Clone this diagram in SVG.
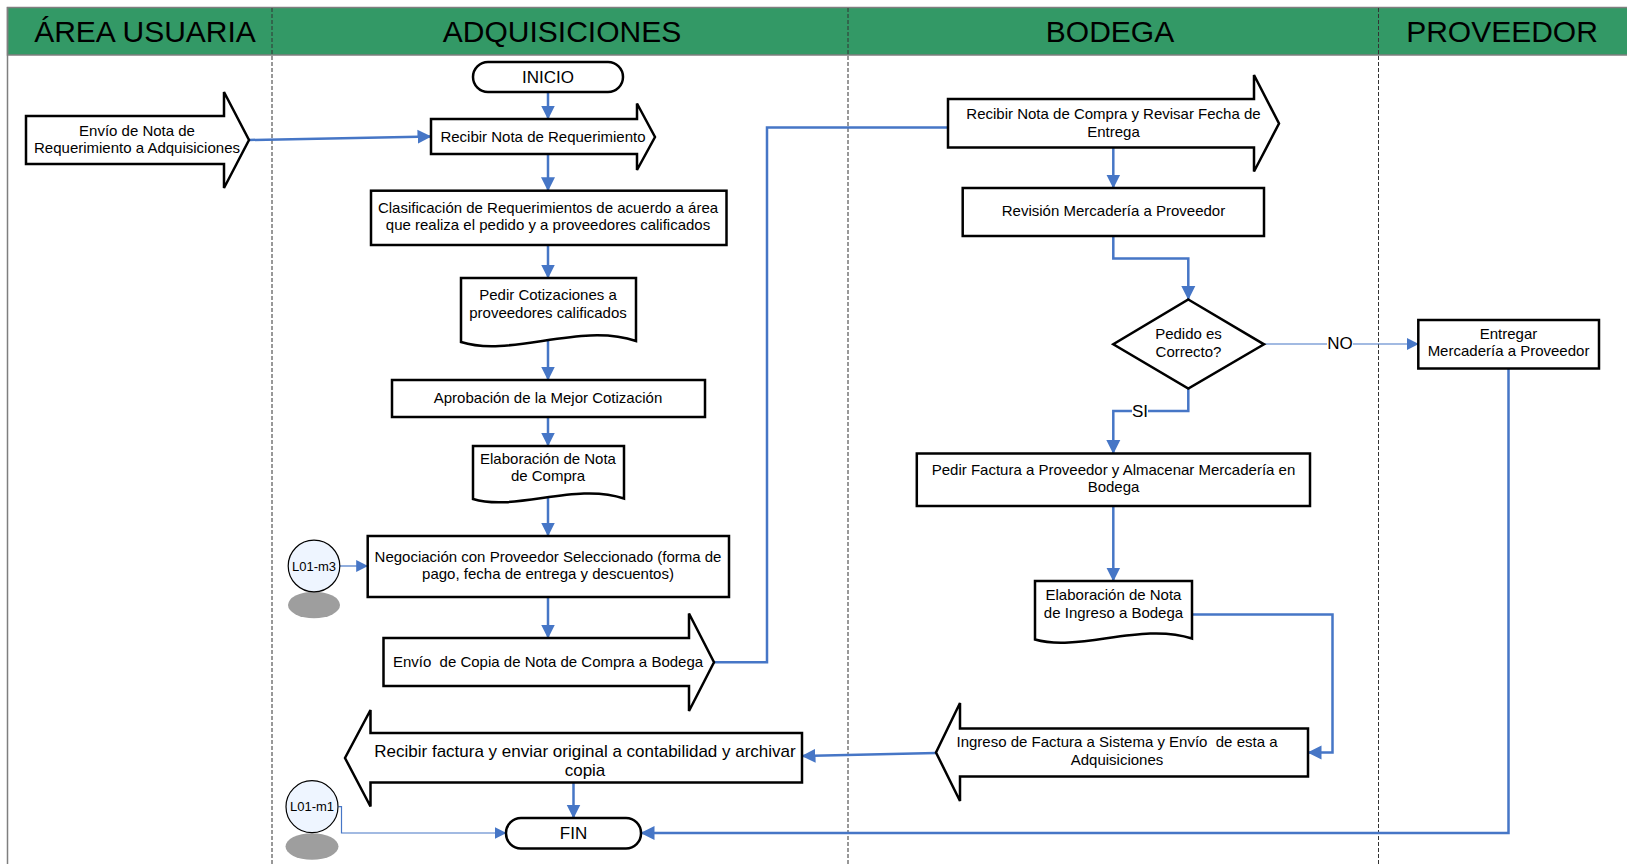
<svg xmlns="http://www.w3.org/2000/svg" width="1627" height="864" viewBox="0 0 1627 864">
  <style>
    text { font-family: "Liberation Sans", Arial, sans-serif; fill: #000; text-anchor: middle; white-space: pre; }
    .lane-title { font-size: 30px; }
    .t { font-size: 15px; }
    .tl { font-size: 17px; }
    .ts { font-size: 13px; }
    .shape { fill: #fff; stroke: #000; stroke-width: 2.5; stroke-linejoin: miter; }
    .ref { fill: #eef5ff; stroke: #000; stroke-width: 1.2; }
    .ref-shadow { fill: #9e9e9e; }
    .lane { stroke: #333; stroke-width: 1; stroke-dasharray: 4 2; fill: none; }
    .conn { fill: none; stroke: #4676c6; stroke-width: 2.5; }
    .conn-thin { fill: none; stroke: #4676c6; stroke-width: 1.2; }
  </style>
  <defs>
    <marker id="arrow" markerUnits="userSpaceOnUse" viewBox="0 0 14 14" markerWidth="14" markerHeight="15" refX="13.5" refY="7" orient="auto">
      <path d="M0,0 L14,7 L0,14 Z" fill="#4676c6"/>
    </marker>
    <marker id="arrow-s" markerUnits="userSpaceOnUse" viewBox="0 0 12 12" markerWidth="12" markerHeight="12" refX="11.5" refY="6" orient="auto">
      <path d="M0,0 L12,6 L0,12 Z" fill="#4676c6"/>
    </marker>
  </defs>

  <rect width="1627" height="864" fill="#fff"/>

  <!-- swimlane frame and headers -->
  <g id="lanes">
    <rect x="7.5" y="7.5" width="1640" height="47.5" fill="#339966" stroke="#7f7f7f" stroke-width="1.5"/>
    <line x1="7.5" y1="7" x2="7.5" y2="864" stroke="#7f7f7f" stroke-width="1.5"/>
    <line class="lane" x1="272" y1="8" x2="272" y2="864"/>
    <line class="lane" x1="848" y1="8" x2="848" y2="864"/>
    <line class="lane" x1="1378.5" y1="8" x2="1378.5" y2="864"/>
    <text class="lane-title" x="145" y="41.5">ÁREA USUARIA</text>
    <text class="lane-title" x="562" y="41.5">ADQUISICIONES</text>
    <text class="lane-title" x="1110" y="41.5">BODEGA</text>
    <text class="lane-title" x="1502" y="41.5">PROVEEDOR</text>
  </g>

  <!-- connectors -->
  <g id="connectors">
    <path class="conn" d="M249,140 L431,136.5" marker-end="url(#arrow)"/>
    <path class="conn" d="M548,92 V119" marker-end="url(#arrow)"/>
    <path class="conn" d="M548,154 V190.7" marker-end="url(#arrow)"/>
    <path class="conn" d="M548,245 V278" marker-end="url(#arrow)"/>
    <path class="conn" d="M548,340 V380" marker-end="url(#arrow)"/>
    <path class="conn" d="M548,417 V446" marker-end="url(#arrow)"/>
    <path class="conn" d="M548,498 V536" marker-end="url(#arrow)"/>
    <path class="conn-thin" d="M340,566 H367.7" marker-end="url(#arrow-s)"/>
    <path class="conn" d="M548,597 V638" marker-end="url(#arrow)"/>
    <path class="conn" d="M714,662.3 H767 V127.5 H948"/>
    <path class="conn" d="M1113.3,147.5 V188" marker-end="url(#arrow)"/>
    <path class="conn" d="M1113.3,236 V258.5 H1188.3 V299.5" marker-end="url(#arrow)"/>
    <path class="conn-thin" d="M1264,344 H1418.3" marker-end="url(#arrow-s)"/>
    <path class="conn" d="M1188.3,388.5 V411 H1113.3 V453.5" marker-end="url(#arrow)"/>
    <path class="conn" d="M1113.3,506 V581" marker-end="url(#arrow)"/>
    <path class="conn" d="M1192,614.5 H1332.5 V752.5 H1308" marker-end="url(#arrow)"/>
    <path class="conn" d="M936,753 L802,756" marker-end="url(#arrow)"/>
    <path class="conn" d="M573.5,782.5 V818" marker-end="url(#arrow)"/>
    <path class="conn-thin" d="M338.5,806.7 H341.5 V833 H506" marker-end="url(#arrow-s)"/>
    <path class="conn" d="M1508.5,368.5 V833 H641" marker-end="url(#arrow)"/>
    <!-- branch labels -->
    <rect x="1327" y="336" width="26" height="16" fill="#fff"/>
    <text class="tl" x="1340" y="349">NO</text>
    <rect x="1132" y="404" width="16" height="15" fill="#fff"/>
    <text class="tl" x="1140" y="417">SI</text>
  </g>

  <!-- ÁREA USUARIA -->
  <g id="envio-nota-requerimiento">
    <path class="shape" d="M26,116 H224 V92 L249,140 L224,188 V164 H26 Z"/>
    <text class="t" x="137" y="135.5">Envío de Nota de</text>
    <text class="t" x="137" y="153">Requerimiento a Adquisiciones</text>
  </g>

  <!-- ADQUISICIONES -->
  <g id="inicio">
    <rect class="shape" x="473" y="62" width="150" height="30" rx="15"/>
    <text class="tl" x="548" y="83">INICIO</text>
  </g>
  <g id="recibir-nota-requerimiento">
    <path class="shape" d="M431,119 H637 V103.5 L655,137 L637,170 V154 H431 Z"/>
    <text class="t" x="543" y="141.5">Recibir Nota de Requerimiento</text>
  </g>
  <g id="clasificacion">
    <rect class="shape" x="371" y="190.7" width="355.5" height="54.3"/>
    <text class="t" x="548" y="212.5">Clasificación de Requerimientos de acuerdo a área</text>
    <text class="t" x="548" y="230">que realiza el pedido y a proveedores calificados</text>
  </g>
  <g id="pedir-cotizaciones">
    <path class="shape" d="M461,278 H636 V341 C580,322 510,358 461,342 Z"/>
    <text class="t" x="548" y="300">Pedir Cotizaciones a</text>
    <text class="t" x="548" y="317.5">proveedores calificados</text>
  </g>
  <g id="aprobacion">
    <rect class="shape" x="392" y="380" width="313" height="37"/>
    <text class="t" x="548" y="403">Aprobación de la Mejor Cotización</text>
  </g>
  <g id="elaboracion-nota-compra">
    <path class="shape" d="M473,446 H624 V498.5 C576,482 515,512 473,499 Z"/>
    <text class="t" x="548" y="463.5">Elaboración de Nota</text>
    <text class="t" x="548" y="481">de Compra</text>
  </g>
  <g id="ref-l01-m3">
    <ellipse class="ref-shadow" cx="314" cy="605" rx="26" ry="13.3"/>
    <circle class="ref" cx="314" cy="566" r="25.8"/>
    <text class="ts" x="314" y="570.5">L01-m3</text>
  </g>
  <g id="negociacion">
    <rect class="shape" x="367.7" y="536" width="361.3" height="61"/>
    <text class="t" x="548" y="561.5">Negociación con Proveedor Seleccionado (forma de</text>
    <text class="t" x="548" y="579">pago, fecha de entrega y descuentos)</text>
  </g>
  <g id="envio-copia-nota-compra">
    <path class="shape" d="M383.5,638 H689 V613.5 L714,662.3 L689,711 V686 H383.5 Z"/>
    <text class="t" x="548" y="667">Envío  de Copia de Nota de Compra a Bodega</text>
  </g>
  <g id="recibir-factura">
    <path class="shape" d="M802,733 H370.5 V710 L345,758 L370.5,806.5 V782.5 H802 Z"/>
    <text class="tl" x="585" y="757">Recibir factura y enviar original a contabilidad y archivar</text>
    <text class="tl" x="585" y="776">copia</text>
  </g>
  <g id="ref-l01-m1">
    <ellipse class="ref-shadow" cx="312" cy="846.5" rx="26.5" ry="13.3"/>
    <circle class="ref" cx="312" cy="806.7" r="26"/>
    <text class="ts" x="312" y="811">L01-m1</text>
  </g>
  <g id="fin">
    <rect class="shape" x="506" y="818" width="135" height="30.5" rx="15"/>
    <text class="tl" x="573.5" y="839">FIN</text>
  </g>

  <!-- BODEGA -->
  <g id="recibir-nota-compra">
    <path class="shape" d="M948,99 H1254 V75 L1279,123.5 L1254,171.5 V147.5 H948 Z"/>
    <text class="t" x="1113.5" y="119">Recibir Nota de Compra y Revisar Fecha de</text>
    <text class="t" x="1113.5" y="137">Entrega</text>
  </g>
  <g id="revision-mercaderia">
    <rect class="shape" x="962.7" y="188" width="301.3" height="48"/>
    <text class="t" x="1113.5" y="216">Revisión Mercadería a Proveedor</text>
  </g>
  <g id="pedido-correcto">
    <path class="shape" d="M1188.3,299.5 L1264,344.3 L1188.3,388.5 L1113.3,344.3 Z"/>
    <text class="t" x="1188.5" y="338.5">Pedido es</text>
    <text class="t" x="1188.5" y="357">Correcto?</text>
  </g>
  <g id="pedir-factura">
    <rect class="shape" x="916.8" y="453.5" width="393.2" height="52.5"/>
    <text class="t" x="1113.5" y="475">Pedir Factura a Proveedor y Almacenar Mercadería en</text>
    <text class="t" x="1113.5" y="492">Bodega</text>
  </g>
  <g id="elaboracion-nota-ingreso">
    <path class="shape" d="M1035,581 H1192 V638.5 C1142,622 1079,652 1035,639.5 Z"/>
    <text class="t" x="1113.5" y="600">Elaboración de Nota</text>
    <text class="t" x="1113.5" y="618">de Ingreso a Bodega</text>
  </g>
  <g id="ingreso-factura">
    <path class="shape" d="M1308,728.5 H960 V703 L936,752.5 L960,801 V776.5 H1308 Z"/>
    <text class="t" x="1117" y="747">Ingreso de Factura a Sistema y Envío  de esta a</text>
    <text class="t" x="1117" y="764.5">Adquisiciones</text>
  </g>

  <!-- PROVEEDOR -->
  <g id="entregar-mercaderia">
    <rect class="shape" x="1418.3" y="320" width="180.7" height="48.5"/>
    <text class="t" x="1508.5" y="338.5">Entregar</text>
    <text class="t" x="1508.5" y="356">Mercadería a Proveedor</text>
  </g>
</svg>
